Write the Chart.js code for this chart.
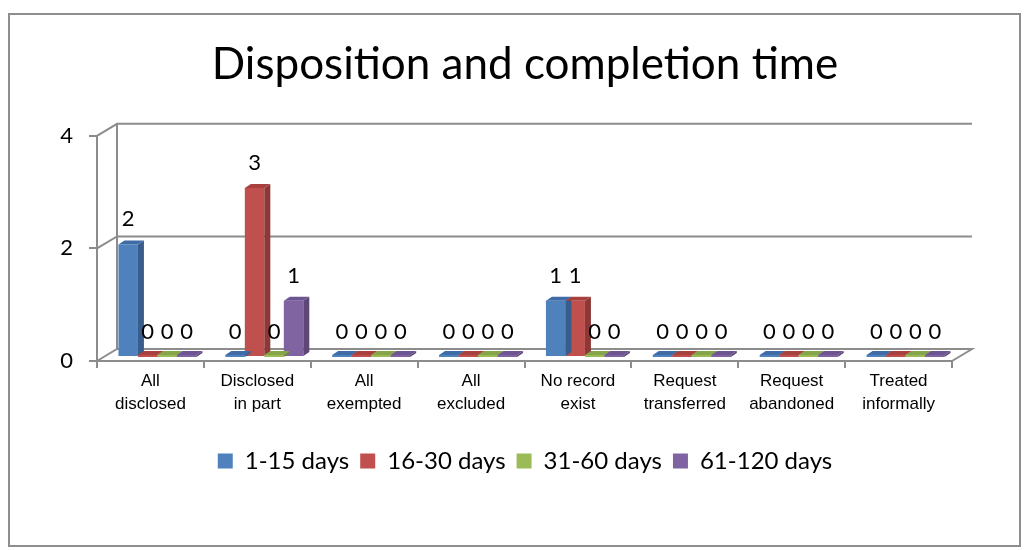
<!DOCTYPE html>
<html>
<head>
<meta charset="utf-8">
<script src="https://cdn.jsdelivr.net/npm/chart.js@4.4.1/dist/chart.umd.min.js"></script>
<style>
  html, body { margin: 0; padding: 0; background: #fff; }
  #wrap { position: relative; width: 1029px; height: 550px; }
  #frame { position: absolute; left: 8px; top: 13px; width: 1013px; height: 534px; border: 2px solid #8e8e8e; box-sizing: border-box; pointer-events: none; }
  canvas { position: absolute; left: 0; top: 0; }
</style>
</head>
<body>
<div id="wrap">
  <canvas id="myChart" width="1029" height="550"></canvas>
  <div id="frame"></div>
</div>
<script>
// data
const categories = [['All', 'disclosed'], ['Disclosed', 'in part'], ['All', 'exempted'], ['All', 'excluded'],
  ['No record', 'exist'], ['Request', 'transferred'], ['Request', 'abandoned'], ['Treated', 'informally']];
const days1to15 = [2, 0, 0, 0, 1, 0, 0, 0];
const days16to30 = [0, 3, 0, 0, 1, 0, 0, 0];
const days31to60 = [0, 0, 0, 0, 0, 0, 0, 0];
const days61to120 = [0, 1, 0, 0, 0, 0, 0, 0];
const yTicks = [0, 2, 4];

const colors = ['#4F81BD', '#C0504D', '#9BBB59', '#8064A2'];
const sides = ['#385D8A', '#8C3836', '#71893F', '#5C4776'];
const tops = ['#3F6CA6', '#A8403D', '#86A548', '#6C5590'];

const gridGray = '#8c8c8c';
const wallDx = 20, wallDy = -12;   // back wall offset
const barDx = 7, barDy = -4;       // bars sit a little into the depth
const depthX = 6, depthY = -4;     // bar thickness

// fake 3d look: back wall, floor, bar sides, labels
const fake3d = {
  id: 'fake3d',
  beforeDatasetsDraw(chart) {
    const c = chart.ctx;
    const a = chart.chartArea;
    const ys = chart.scales.y;
    c.save();
    c.strokeStyle = gridGray;
    c.lineWidth = 2;
    // back wall grid lines
    yTicks.forEach(v => {
      const y = ys.getPixelForValue(v);
      if (v === 0) return;
      c.beginPath();
      c.moveTo(a.left, y);
      c.lineTo(a.left + wallDx, y + wallDy);
      c.lineTo(a.right + wallDx, y + wallDy);
      c.stroke();
    });
    // back left edge
    c.beginPath();
    c.moveTo(a.left + wallDx, a.top + wallDy);
    c.lineTo(a.left + wallDx, a.bottom + wallDy);
    c.stroke();
    // floor
    c.beginPath();
    c.moveTo(a.left, a.bottom);
    c.lineTo(a.left + wallDx, a.bottom + wallDy);
    c.lineTo(a.right + wallDx, a.bottom + wallDy);
    c.lineTo(a.right, a.bottom);
    c.stroke();
    c.restore();

    c.save();
    c.translate(barDx, barDy);
  },
  afterDatasetsDraw(chart) {
    const c = chart.ctx;
    chart.data.datasets.forEach((ds, i) => {
      const meta = chart.getDatasetMeta(i);
      meta.data.forEach(el => {
        const p = el.getProps(['x', 'y', 'base', 'width'], true);
        const l = p.x - p.width / 2, r = p.x + p.width / 2;
        let top = p.y;
        if (p.base - top < 2) {
          top = p.base - 2;
          c.fillStyle = colors[i];
          c.fillRect(l, top, p.width, p.base - top);
        }
        // side
        c.fillStyle = sides[i];
        c.beginPath();
        c.moveTo(r, top);
        c.lineTo(r + depthX, top + depthY);
        c.lineTo(r + depthX, p.base + depthY);
        c.lineTo(r, p.base);
        c.closePath();
        c.fill();
        // top
        c.fillStyle = tops[i];
        c.beginPath();
        c.moveTo(l, top);
        c.lineTo(l + depthX, top + depthY);
        c.lineTo(r + depthX, top + depthY);
        c.lineTo(r, top);
        c.closePath();
        c.fill();
      });
    });
    // value labels
    c.fillStyle = '#000';
    c.font = '22px Lato';
    c.textAlign = 'center';
    c.textBaseline = 'middle';
    chart.data.datasets.forEach((ds, i) => {
      const meta = chart.getDatasetMeta(i);
      meta.data.forEach((el, j) => {
        const p = el.getProps(['x', 'y'], true);
        c.fillText(String(ds.data[j]), p.x, p.y - 25);
      });
    });
    c.restore();
  }
};

const ctx = document.getElementById('myChart');

new Chart(ctx, {
  type: 'bar',
  data: {
    labels: categories,
    datasets: [
      { label: '1-15 days', data: days1to15, backgroundColor: colors[0] },
      { label: '16-30 days', data: days16to30, backgroundColor: colors[1] },
      { label: '31-60 days', data: days31to60, backgroundColor: colors[2] },
      { label: '61-120 days', data: days61to120, backgroundColor: colors[3] }
    ]
  },
  options: {
    responsive: false,
    animation: false,
    categoryPercentage: 0.73,
    barPercentage: 1,
    layout: { padding: { left: 21, right: 0, top: 0, bottom: 67 } },
    scales: {
      x: {
        grid: { drawOnChartArea: false, tickLength: 7, color: gridGray, lineWidth: 2 },
        border: { color: gridGray, width: 2 },
        ticks: { color: '#000', font: { family: 'Liberation Sans', size: 17, lineHeight: 1.35 }, padding: 2, maxRotation: 0, autoSkip: false },
        afterFit(s) { s.height = 77; }
      },
      y: {
        min: 0,
        max: 4,
        afterBuildTicks(s) { s.ticks = yTicks.map(v => ({ value: v })); },
        grid: { drawOnChartArea: false, tickLength: 8, color: gridGray, lineWidth: 2 },
        border: { color: gridGray, width: 2 },
        ticks: { color: '#000', font: { family: 'Lato', size: 22 }, padding: 16 },
        afterFit(s) { s.width = 76; }
      },
      // empty right axis, only keeps room for the floor's depth
      y2: {
        position: 'right',
        display: true,
        grid: { display: false },
        border: { display: false },
        ticks: { display: false },
        afterFit(s) { s.width = 77; }
      }
    },
    plugins: {
      title: {
        display: true,
        text: 'Disposition and completion time',
        color: '#000',
        font: { family: 'Lato', size: 44, weight: 'normal' },
        padding: { top: 38, bottom: 45 }
      },
      legend: {
        position: 'bottom',
        labels: {
          color: '#000',
          font: { family: 'Lato', size: 24 },
          boxWidth: 15,
          boxHeight: 15,
          padding: 11
        }
      },
      tooltip: { enabled: false }
    }
  },
  plugins: [fake3d]
});
</script>
</body>
</html>
